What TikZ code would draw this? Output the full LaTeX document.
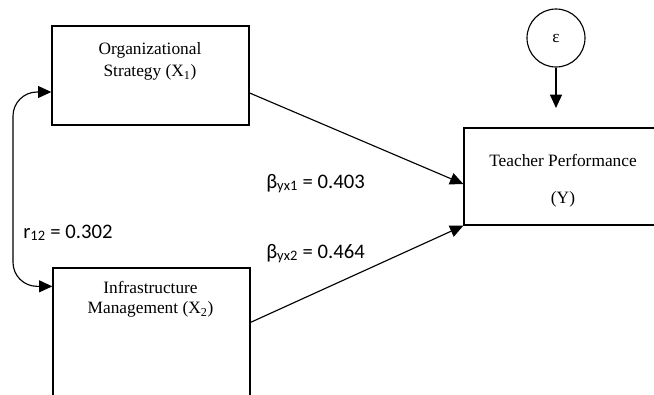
\documentclass[tikz,border=0pt]{standalone}
\usepackage{fontspec}
\setmainfont{Liberation Serif}
\newfontfamily\labelfont{Carlito}
\usepackage{tikz}
\usetikzlibrary{arrows.meta,positioning,calc}

\begin{document}
\begin{tikzpicture}[x=0.75pt,y=0.75pt,yscale=-1,xscale=1,
  varbox/.style={draw, line width=1pt, minimum width=147.75pt, inner sep=0pt},
  boxtext/.style={align=center, inner sep=0pt, anchor=north},
  coef/.style={anchor=base west, inner sep=0pt, font=\labelfont\fontsize{15.5}{18}\selectfont},
  arr/.style={-{Triangle[length=10pt,width=9pt]}, line width=0.85pt},
  dblarr/.style={{Triangle[length=10pt,width=9pt]}-{Triangle[length=10pt,width=9pt]}, line width=0.85pt, rounded corners=18pt}]
\useasboundingbox (0,0) rectangle (654,394);

%Shape: Rectangle
\node[varbox, minimum height=74.25pt] (x1) at (150.5,75.5) {};
%Shape: Rectangle
\node[varbox, minimum height=99pt] (x2) at (151.5,334) {};
%Shape: Rectangle
\node[varbox, minimum height=72.75pt] (yb) at (562.5,176.5) {};
%Shape: Circle
\node[draw, circle, line width=0.85pt, minimum size=43.5pt, inner sep=0pt, font=\fontsize{13}{13}\selectfont] (eps) at (556,38) {ε};

% Text Node
\node[boxtext, font=\fontsize{13}{17}\selectfont] (x1t) at (150,42) {Organizational\\Strategy (X\textsubscript{1})};
% Text Node
\node[boxtext, font=\fontsize{13}{15}\selectfont] (x2t) at (150.5,281) {Infrastructure\\Management (X\textsubscript{2})};
% Text Node
\node[boxtext, font=\fontsize{13}{27.75}\selectfont] (yt) at (563,154) {Teacher Performance\\(Y)};
% Text Node
\node[coef] (b1) at (266,188) {β\textsubscript{yx1} = 0.403};
% Text Node
\node[coef] (b2) at (266,258) {β\textsubscript{yx2} = 0.464};
% Text Node
\node[coef] (r12) at (23,238) {r\textsubscript{12} = 0.302};

%Straight Lines
\coordinate (epsend) at (556,108);
\coordinate (rbend) at (13,180);
\draw[arr] (eps) -- (epsend);
\draw[arr] ($(x1.east)+(0,17.5)$) -- ($(yb.west)+(0,7.5)$);
\draw[arr] ($(x2.north east)+(0,55)$) -- (yb.south west);
%Curve Lines
\draw[dblarr] ($(x1.west)+(0,16.5)$) -| (rbend) |- ($(x2.north west)+(0,19)$);
\end{tikzpicture}
\end{document}
